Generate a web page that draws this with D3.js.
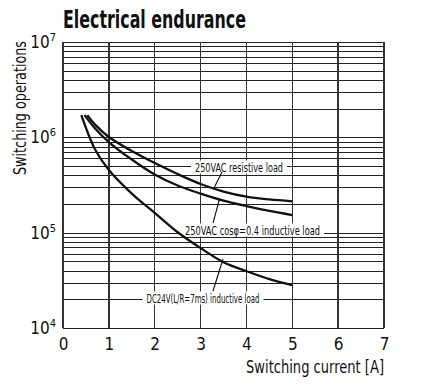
<!DOCTYPE html>
<html>
<head>
<meta charset="utf-8">
<script src="https://cdn.jsdelivr.net/npm/d3@7"></script>
<style>
  body { margin: 0; background: #fff; }
  svg { display: block; }
  text { font-family: "Liberation Sans Narrow", "DejaVu Sans Condensed", "Roboto", sans-serif; fill: #111; }
</style>
</head>
<body>
<svg id="chart" width="428" height="390"></svg>
<script>
// switching current [A] vs switching operations
var resistiveX = [0.53, 0.7, 1, 1.5, 2, 2.5, 3, 3.5, 4, 4.5, 5];
var resistiveY = [1.71e6, 1.36e6, 1.007e6, 7.18e5, 5.37e5, 4.12e5, 3.24e5, 2.7e5, 2.39e5, 2.23e5, 2.13e5];

var inductiveX = [0.47, 0.7, 1, 1.5, 2, 2.5, 3, 3.5, 4, 4.5, 5];
var inductiveY = [1.71e6, 1.24e6, 8.93e5, 5.85e5, 4.07e5, 3.12e5, 2.57e5, 2.17e5, 1.9e5, 1.69e5, 1.53e5];

var dcX = [0.4, 0.7, 1, 1.5, 2, 2.5, 3, 3.5, 4, 4.5, 5];
var dcY = [1.71e6, 7.45e5, 4.54e5, 2.57e5, 1.61e5, 1.01e5, 6.9e4, 4.9e4, 3.95e4, 3.26e4, 2.82e4];

var xTicks = [0, 1, 2, 3, 4, 5, 6, 7];
var yDecades = [4, 5, 6, 7];

var notes = [
	{ label: "250VAC resistive load", tx: 239, ty: 167, w: 88, from: [214.5, 187], to: [222, 172] },
	{ label: "250VAC cos\u03c6=0.4 inductive load", tx: 252.5, ty: 230, w: 135, from: [219.5, 199], to: [213, 223] },
	{ label: "DC24V(L/R=7ms) inductive load", tx: 203, ty: 298, w: 113, from: [223, 259], to: [213, 291] }
];

var svg = d3.select("#chart");
var x = d3.scaleLinear().domain([0, 7]).range([63, 384]);
var y = d3.scaleLog().domain([1e4, 1e7]).range([328, 42]);

// grid
var gridVals = [];
yDecades.forEach(function (e) {
	for (var m = 1; m <= 9; m++) {
		if (e === 7 && m > 1) break;
		gridVals.push(m * Math.pow(10, e));
	}
});

var grid = svg.append("g").attr("stroke", "#222").attr("stroke-width", 1).attr("shape-rendering", "crispEdges");
grid.selectAll("line.h").data(gridVals).enter().append("line")
	.attr("x1", x(0)).attr("x2", x(7))
	.attr("y1", function (d) { return Math.round(y(d)) + 0.5; })
	.attr("y2", function (d) { return Math.round(y(d)) + 0.5; });
grid.selectAll("line.v").data(xTicks).enter().append("line")
	.attr("y1", y(1e7)).attr("y2", y(1e4))
	.attr("stroke", "#333")
	.attr("stroke-width", 1.4)
	.attr("x1", function (d) { return x(d); })
	.attr("x2", function (d) { return x(d); });

// white boxes behind the curve labels
var noteG = svg.append("g");
notes.forEach(function (n) {
	var t = noteG.append("text")
		.attr("x", n.tx).attr("y", n.ty)
		.attr("text-anchor", "middle").attr("dominant-baseline", "central")
		.attr("font-size", 13)
		.attr("textLength", n.w).attr("lengthAdjust", "spacingAndGlyphs")
		.text(n.label);
	var b = t.node().getBBox();
	noteG.insert("rect", "text")
		.attr("x", n.tx - n.w / 2 - 4).attr("y", b.y + 1)
		.attr("width", n.w + 8).attr("height", b.height - 2)
		.attr("fill", "#fff");
});

// curves
var line = d3.line()
	.x(function (d) { return x(d[0]); })
	.y(function (d) { return y(d[1]); })
	.curve(d3.curveCatmullRom.alpha(0.5));

[[resistiveX, resistiveY], [inductiveX, inductiveY], [dcX, dcY]].forEach(function (s) {
	var pts = s[0].map(function (v, i) { return [v, s[1][i]]; });
	svg.append("path")
		.attr("d", line(pts))
		.attr("fill", "none")
		.attr("stroke", "#111")
		.attr("stroke-width", 2.3)
		.attr("stroke-linecap", "butt");
});

// leaders
svg.selectAll("line.lead").data(notes).enter().append("line")
	.attr("x1", function (d) { return d.from[0]; })
	.attr("y1", function (d) { return d.from[1]; })
	.attr("x2", function (d) { return d.to[0]; })
	.attr("y2", function (d) { return d.to[1]; })
	.attr("stroke", "#111").attr("stroke-width", 1.1);

// axes
var xAxis = d3.axisBottom(x).tickValues(xTicks).tickSize(0).tickPadding(10).tickFormat(d3.format("d"));
var gx = svg.append("g").attr("transform", "translate(0," + y(1e4) + ")").call(xAxis);
gx.select(".domain").remove();
gx.selectAll("text").attr("font-size", 17).attr("font-family", null).attr("fill", "#111");

var gy = svg.append("g");
yDecades.forEach(function (e) {
	var t = gy.append("text")
		.attr("x", 56).attr("y", y(Math.pow(10, e)) + 6)
		.attr("text-anchor", "end")
		.attr("font-size", 17);
	t.append("tspan").text("10");
	t.append("tspan").attr("dy", -7).attr("font-size", 11).text(e);
});

// titles
svg.append("text")
	.attr("x", 63).attr("y", 28)
	.attr("font-size", 24).attr("font-weight", "bold")
	.attr("textLength", 183).attr("lengthAdjust", "spacingAndGlyphs")
	.text("Electrical endurance");

svg.append("text")
	.attr("x", 384).attr("y", 373)
	.attr("text-anchor", "end")
	.attr("font-size", 18)
	.attr("textLength", 138).attr("lengthAdjust", "spacingAndGlyphs")
	.text("Switching current [A]");

svg.append("text")
	.attr("transform", "translate(26,108) rotate(-90)")
	.attr("text-anchor", "middle")
	.attr("font-size", 17)
	.attr("textLength", 134).attr("lengthAdjust", "spacingAndGlyphs")
	.text("Switching operations");
</script>
</body>
</html>
